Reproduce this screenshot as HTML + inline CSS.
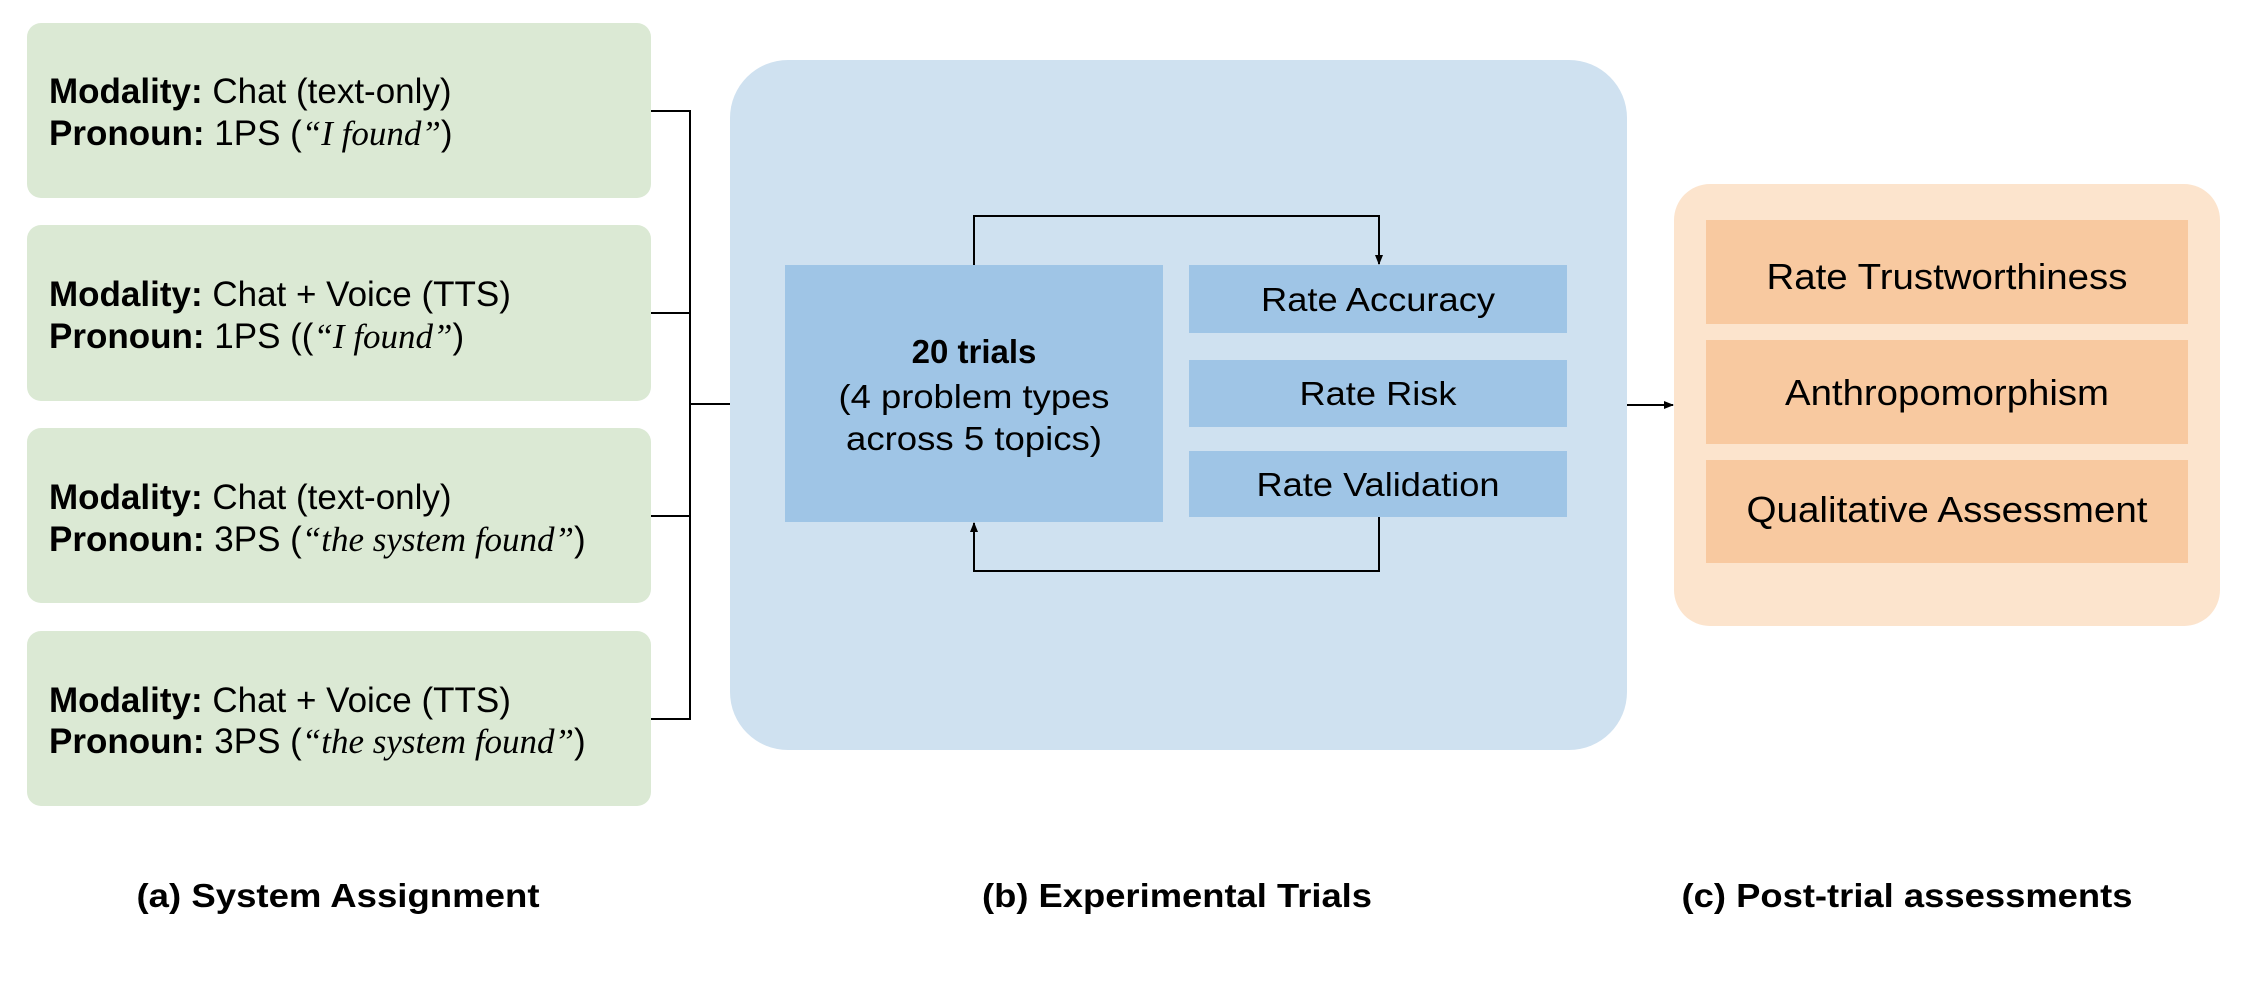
<!DOCTYPE html>
<html><head><meta charset="utf-8"><style>
html,body{margin:0;padding:0;background:#fff;}
svg{display:block;}
text{font-family:"Liberation Sans",Arial,sans-serif;fill:#000;}
.s{font-family:"Liberation Serif",serif;font-style:italic;}
</style></head><body>
<svg width="2257" height="1003" viewBox="0 0 2257 1003" xmlns="http://www.w3.org/2000/svg">
<defs>
<marker id="ah" markerWidth="10" markerHeight="10" refX="9" refY="5" orient="auto" markerUnits="userSpaceOnUse">
<path d="M0,1 L10,5 L0,9 z" fill="#000"/>
</marker>
</defs>
<!-- green boxes -->
<g fill="#dbe9d4">
<rect x="27" y="23" width="624" height="175" rx="14"/>
<rect x="27" y="225" width="624" height="176" rx="14"/>
<rect x="27" y="428" width="624" height="175" rx="14"/>
<rect x="27" y="631" width="624" height="175" rx="14"/>
</g>
<g font-size="35">
<text x="49" y="103"><tspan font-weight="bold">Modality:</tspan> Chat (text-only)</text>
<text x="49" y="145"><tspan font-weight="bold">Pronoun:</tspan> 1PS (<tspan class="s">“I found</tspan><tspan class="s">”</tspan>)</text>
<text x="49" y="306"><tspan font-weight="bold">Modality:</tspan> Chat + Voice (TTS)</text>
<text x="49" y="348"><tspan font-weight="bold">Pronoun:</tspan> 1PS ((<tspan class="s">“I found”</tspan>)</text>
<text x="49" y="509"><tspan font-weight="bold">Modality:</tspan> Chat (text-only)</text>
<text x="49" y="551"><tspan font-weight="bold">Pronoun:</tspan> 3PS (<tspan class="s">“the system found”</tspan>)</text>
<text x="49" y="712"><tspan font-weight="bold">Modality:</tspan> Chat + Voice (TTS)</text>
<text x="49" y="753"><tspan font-weight="bold">Pronoun:</tspan> 3PS (<tspan class="s">“the system found”</tspan>)</text>
</g>
<!-- bracket connector -->
<g stroke="#000" stroke-width="2" fill="none">
<path d="M651,111 H690 V719 H651"/>
<path d="M651,313 H690"/>
<path d="M651,516 H690"/>
<path d="M690,404 H730"/>
</g>
<!-- blue container -->
<rect x="730" y="60" width="897" height="690" rx="58" fill="#cfe1f0"/>
<g fill="#9fc5e6">
<rect x="785" y="265" width="378" height="257"/>
<rect x="1189" y="265" width="378" height="68"/>
<rect x="1189" y="360" width="378" height="67"/>
<rect x="1189" y="451" width="378" height="66"/>
</g>
<g text-anchor="middle" font-size="33">
<text x="974" y="363" font-weight="bold">20 trials</text>
<text x="974" y="408" textLength="271" lengthAdjust="spacingAndGlyphs">(4 problem types</text>
<text x="974" y="450" textLength="256" lengthAdjust="spacingAndGlyphs">across 5 topics)</text>
<text x="1378" y="311" textLength="234" lengthAdjust="spacingAndGlyphs">Rate Accuracy</text>
<text x="1378" y="405" textLength="157" lengthAdjust="spacingAndGlyphs">Rate Risk</text>
<text x="1378" y="496" textLength="243" lengthAdjust="spacingAndGlyphs">Rate Validation</text>
</g>
<g stroke="#000" stroke-width="2" fill="none">
<path d="M974,265 V216 H1379 V264" marker-end="url(#ah)"/>
<path d="M1379,517 V571 H974 V523" marker-end="url(#ah)"/>
<path d="M1627,405 H1673" marker-end="url(#ah)"/>
</g>
<!-- orange -->
<rect x="1674" y="184" width="546" height="442" rx="36" fill="#fce4cd"/>
<g fill="#f8c9a0">
<rect x="1706" y="220" width="482" height="104"/>
<rect x="1706" y="340" width="482" height="104"/>
<rect x="1706" y="460" width="482" height="103"/>
</g>
<g text-anchor="middle" font-size="36">
<text x="1947" y="289" textLength="361" lengthAdjust="spacingAndGlyphs">Rate Trustworthiness</text>
<text x="1947" y="405" textLength="324" lengthAdjust="spacingAndGlyphs">Anthropomorphism</text>
<text x="1947" y="522" textLength="401" lengthAdjust="spacingAndGlyphs">Qualitative Assessment</text>
</g>
<!-- captions -->
<g font-size="33" font-weight="bold" text-anchor="middle">
<text x="338" y="907" textLength="403" lengthAdjust="spacingAndGlyphs">(a) System Assignment</text>
<text x="1177" y="907" textLength="390" lengthAdjust="spacingAndGlyphs">(b) Experimental Trials</text>
<text x="1907" y="907" textLength="451" lengthAdjust="spacingAndGlyphs">(c) Post-trial assessments</text>
</g>
</svg>
</body></html>
